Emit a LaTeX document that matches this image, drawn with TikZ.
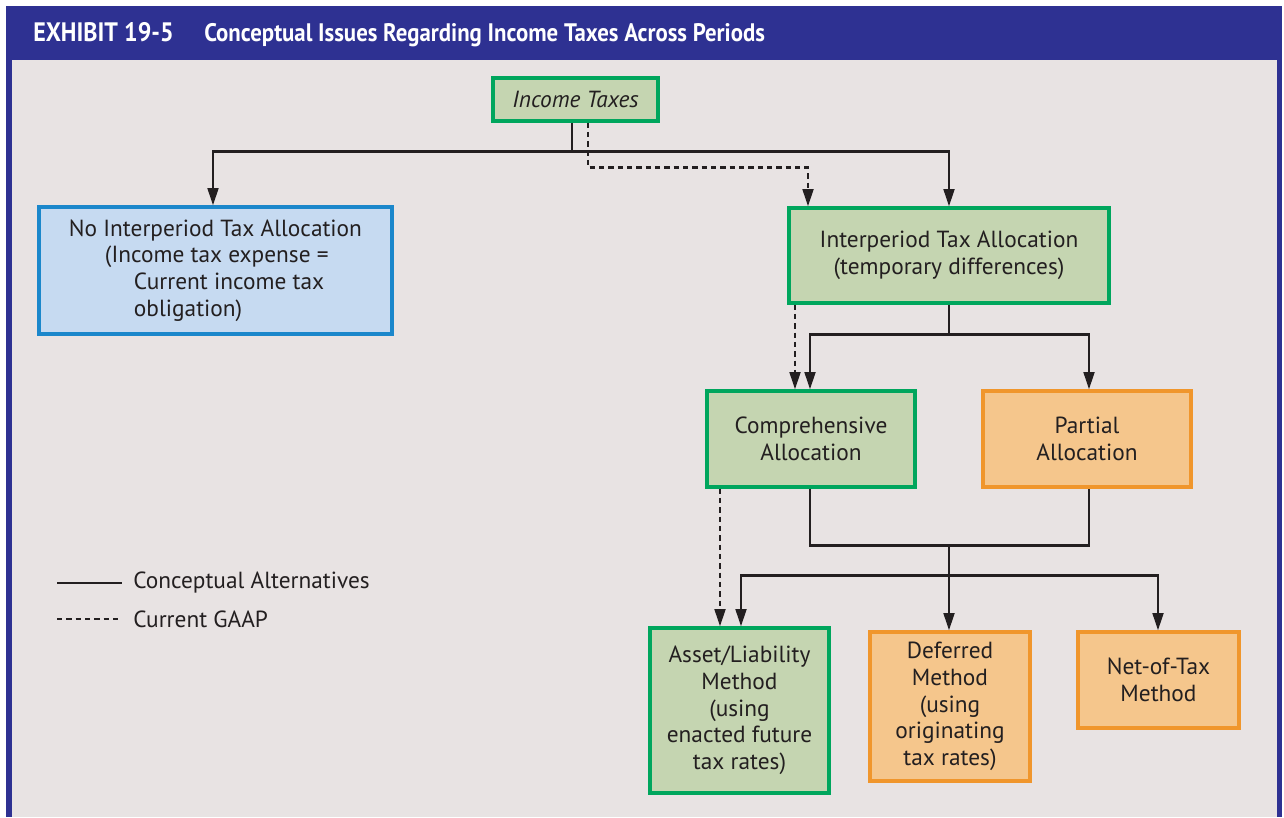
\documentclass[tikz,border=0pt]{standalone}
\usepackage{fontspec}
\setmainfont{PT Sans}
\newfontfamily\headfont{PT Sans}[FakeStretch=0.9]
\usetikzlibrary{arrows.meta,calc}

\definecolor{hdblue}{HTML}{2E3192}
\definecolor{paper}{HTML}{E8E3E3}
\definecolor{gfill}{HTML}{C5D5B1}
\definecolor{gline}{HTML}{00A65D}
\definecolor{bfill}{HTML}{C6DAF1}
\definecolor{bline}{HTML}{1B87CB}
\definecolor{ofill}{HTML}{F5C68C}
\definecolor{oline}{HTML}{F0962C}
\definecolor{ink}{HTML}{231F20}

\tikzset{
  box/.style={draw, line width=2.3pt, inner sep=0pt, align=center, text=ink,
    font=\fontsize{17.5}{20}\selectfont},
  gbox/.style={box, fill=gfill, draw=gline},
  bbox/.style={box, fill=bfill, draw=bline},
  obox/.style={box, fill=ofill, draw=oline},
  conn/.style={draw=ink, line width=2pt},
  gaap/.style={conn, dash pattern=on 4pt off 3pt},
  arr/.style={-{Triangle[length=13pt,width=8pt]}},
  headtxt/.style={text=white, inner sep=0pt, anchor=base west},
  legtxt/.style={text=ink, inner sep=0pt, anchor=west,
    font=\fontsize{17.5}{20}\selectfont}
}

\begin{document}
\begin{tikzpicture}[x=0.75pt,y=-0.75pt]
  \useasboundingbox (0,0) rectangle (1284,817);
  % frame and header band
  \fill[hdblue] (6,6) rectangle (1282,817);
  \fill[paper] (12,60) rectangle (1277,817);
  \node[headtxt, font=\headfont\bfseries\fontsize{20}{22}\selectfont] (hnum) at (33,42) {EXHIBIT 19-5};
  \node[headtxt, font=\headfont\bfseries\fontsize{19}{22}\selectfont] (htitle) at (204,42) {Conceptual Issues Regarding Income Taxes Across Periods};

  % boxes
  \node[gbox, minimum width=123.75pt, minimum height=32.25pt] (it) at (575.5,99.5) {\itshape Income Taxes};
  \node[bbox, minimum width=264.75pt, minimum height=95.25pt, align=left] (nia) at (215.5,270.5)
    {No Interperiod Tax Allocation\\\hspace*{27pt}(Income tax expense =\\\hspace*{48.75pt}Current income tax\\\hspace*{48.75pt}obligation)};
  \node[gbox, minimum width=240pt, minimum height=71.25pt] (ita) at (949,255.5)
    {Interperiod Tax Allocation\\(temporary differences)};
  \node[gbox, minimum width=156pt, minimum height=72pt] (cmp) at (811,439) {Comprehensive\\Allocation};
  \node[obox, minimum width=156pt, minimum height=72pt] (par) at (1087,439) {Partial\\Allocation};
  \node[gbox, minimum width=134.25pt, minimum height=123.75pt] (alm) at (739.5,710.5)
    {Asset/Liability\\Method\\(using\\enacted future\\tax rates)};
  \node[obox, minimum width=120pt, minimum height=111.75pt] (dm) at (950,706.5)
    {Deferred\\Method\\(using\\originating\\tax rates)};
  \node[obox, minimum width=120.75pt, minimum height=72pt] (ntm) at (1158.5,680) {Net-of-Tax\\Method};

  % Income Taxes -> first split
  \draw[conn] ($(it.south)+(-3.5,0)$) -- ++(0,29) coordinate (j1);
  \draw[conn,arr] (j1) -| ($(nia.north)+(-2.5,0)$);
  \draw[conn,arr] (j1) -| (ita.north);
  \draw[gaap,arr] ($(it.south)+(12.5,0)$) |- ($(ita.north)+(-141,-39)$) -- ($(ita.north)+(-141,0)$);

  % Interperiod -> comprehensive / partial
  \draw[conn] (ita.south) -- ++(0,30) coordinate (j2);
  \draw[conn,arr] (j2) -| ($(cmp.north)+(-1,0)$);
  \draw[conn,arr] (j2) -| ($(par.north)+(2,0)$);
  \draw[gaap,arr] ($(ita.south)+(-154,0)$) -- ($(cmp.north)+(-16,0)$);

  % comprehensive / partial -> methods
  \coordinate (j3) at ($(cmp.south)!0.5!(par.south)+(0,57)$);
  \draw[conn] ($(cmp.south)+(-1,0)$) |- (j3) -| ($(par.south)+(2,0)$);
  \draw[conn] (j3) -- ++(0,30) coordinate (j4);
  \draw[conn,arr] (j4) -| ($(alm.north)+(1.5,0)$);
  \draw[conn,arr] (j4) -- (j4 |- dm.north);
  \draw[conn,arr] (j4) -| ($(ntm.north)+(-0.5,0)$);
  \draw[gaap,arr] ($(cmp.south)+(-91,0)$) -- ($(alm.north)+(-19.5,0)$);

  % legend
  \coordinate (la) at (57,583);
  \coordinate (lb) at (122,583);
  \coordinate (lc) at (57,619);
  \coordinate (ld) at (122,619);
  \draw[conn] (la) -- (lb);
  \draw[gaap] (lc) -- (ld);
  \node[legtxt] (l1) at (133,583) {Conceptual Alternatives};
  \node[legtxt] (l2) at (133,619) {Current GAAP};
\end{tikzpicture}
\end{document}
